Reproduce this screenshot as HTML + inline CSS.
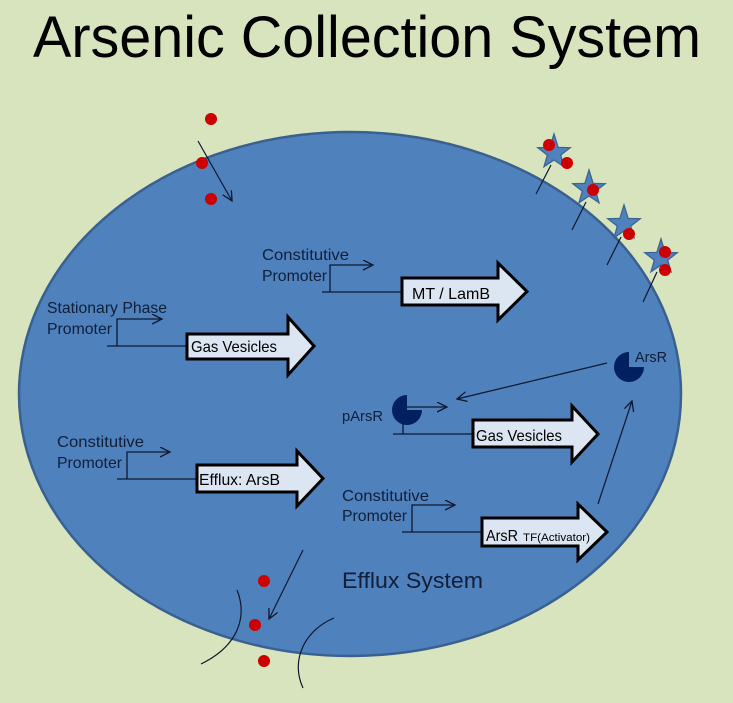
<!DOCTYPE html>
<html>
<head>
<meta charset="utf-8">
<style>
  html,body{margin:0;padding:0;background:#D7E4BD;}
  svg{display:block;}
  text{font-family:"Liberation Sans", sans-serif;}
</style>
</head>
<body>
<svg width="733" height="703" viewBox="0 0 733 703" xmlns="http://www.w3.org/2000/svg">
  <defs>
    <marker id="ah" markerUnits="userSpaceOnUse" markerWidth="14" markerHeight="14" refX="10" refY="5" orient="auto">
      <path d="M0,0 L10,5 L0,10" fill="none" stroke="#0D1830" stroke-width="1.3"/>
    </marker>
  </defs>

  <rect x="0" y="0" width="733" height="703" fill="#D7E4BD"/>

  <!-- Title -->
  <text x="33" y="57" font-size="58" fill="#000" textLength="668" lengthAdjust="spacingAndGlyphs">Arsenic Collection System</text>

  <!-- Cell -->
  <ellipse cx="350" cy="394" rx="331" ry="262" fill="#4F81BD" stroke="#3A6090" stroke-width="2.5"/>

  <!-- top-left entering arsenic -->
  <line x1="198" y1="141" x2="232" y2="201" stroke="#0D1830" stroke-width="1.2" marker-end="url(#ah)"/>
  <circle cx="211" cy="119" r="6" fill="#CC0000"/>
  <circle cx="202" cy="163" r="6" fill="#CC0000"/>
  <circle cx="211" cy="199" r="6" fill="#CC0000"/>

  <!-- membrane anchored stars -->
  <g stroke="#0D1830" stroke-width="1.2">
    <line x1="536" y1="194" x2="551" y2="165"/>
    <line x1="572" y1="230" x2="586" y2="202"/>
    <line x1="607" y1="265" x2="621" y2="237"/>
    <line x1="643" y1="302" x2="657" y2="272"/>
  </g>
  <g fill="#4F81BD" stroke="#3A6494" stroke-width="1.3">
    <polygon transform="translate(554,153)" points="0,-19 4.12,-5.66 16.17,-5.25 6.66,2.16 10,13.75 0,7 -10,13.75 -6.66,2.16 -16.17,-5.25 -4.12,-5.66"/>
    <polygon transform="translate(589,189)" points="0,-19 4.12,-5.66 16.17,-5.25 6.66,2.16 10,13.75 0,7 -10,13.75 -6.66,2.16 -16.17,-5.25 -4.12,-5.66"/>
    <polygon transform="translate(624,224)" points="0,-19 4.12,-5.66 16.17,-5.25 6.66,2.16 10,13.75 0,7 -10,13.75 -6.66,2.16 -16.17,-5.25 -4.12,-5.66"/>
    <polygon transform="translate(661,258)" points="0,-19 4.12,-5.66 16.17,-5.25 6.66,2.16 10,13.75 0,7 -10,13.75 -6.66,2.16 -16.17,-5.25 -4.12,-5.66"/>
  </g>
  <g fill="#CC0000">
    <circle cx="549" cy="145" r="6"/>
    <circle cx="567" cy="163" r="6"/>
    <circle cx="593" cy="190" r="6"/>
    <circle cx="629" cy="234" r="6"/>
    <circle cx="665" cy="252" r="6"/>
    <circle cx="665" cy="270" r="6"/>
  </g>

  <!-- Promoter: MT / LamB -->
  <text x="262" y="260" font-size="16" fill="#0F1F3A" textLength="87" lengthAdjust="spacingAndGlyphs">Constitutive</text>
  <text x="262" y="281" font-size="16" fill="#0F1F3A" textLength="65" lengthAdjust="spacingAndGlyphs">Promoter</text>
  <g stroke="#0D1830" stroke-width="1.3" fill="none">
    <polyline points="322,292 402,292"/>
    <polyline points="330,292 330,265 373,265" marker-end="url(#ah)"/>
  </g>
  <polygon points="402,278 498,278 498,263 527,291.5 498,320 498,305 402,305" fill="#DCE6F2" stroke="#000" stroke-width="3" stroke-linejoin="miter"/>
  <text x="412" y="299" font-size="16" fill="#000" textLength="78" lengthAdjust="spacingAndGlyphs">MT / LamB</text>

  <!-- Promoter: Stationary phase / Gas vesicles -->
  <text x="47" y="313" font-size="16" fill="#0F1F3A" textLength="120" lengthAdjust="spacingAndGlyphs">Stationary Phase</text>
  <text x="47" y="334" font-size="16" fill="#0F1F3A" textLength="65" lengthAdjust="spacingAndGlyphs">Promoter</text>
  <g stroke="#0D1830" stroke-width="1.3" fill="none">
    <polyline points="107,346 187,346"/>
    <polyline points="117,346 117,319 162,319" marker-end="url(#ah)"/>
  </g>
  <polygon points="187,334 288,334 288,317 314,346 288,375 288,359 187,359" fill="#DCE6F2" stroke="#000" stroke-width="3"/>
  <text x="191" y="352" font-size="16" fill="#000" textLength="86" lengthAdjust="spacingAndGlyphs">Gas Vesicles</text>

  <!-- Promoter: Efflux ArsB -->
  <text x="57" y="447" font-size="16" fill="#0F1F3A" textLength="87" lengthAdjust="spacingAndGlyphs">Constitutive</text>
  <text x="57" y="468" font-size="16" fill="#0F1F3A" textLength="65" lengthAdjust="spacingAndGlyphs">Promoter</text>
  <g stroke="#0D1830" stroke-width="1.3" fill="none">
    <polyline points="117,479 197,479"/>
    <polyline points="127,479 127,452 170,452" marker-end="url(#ah)"/>
  </g>
  <polygon points="197,465 297,465 297,451 323,478.5 297,506 297,492 197,492" fill="#DCE6F2" stroke="#000" stroke-width="3"/>
  <text x="199" y="485" font-size="16" fill="#000" textLength="81" lengthAdjust="spacingAndGlyphs">Efflux: ArsB</text>

  <!-- ArsR free pie -->
  <path d="M629,367 L629,352 A15,15 0 1 0 644,367 Z" fill="#002060"/>
  <text x="635" y="362" font-size="15" fill="#0F1F3A" textLength="32" lengthAdjust="spacingAndGlyphs">ArsR</text>
  <line x1="607" y1="363" x2="457" y2="399" stroke="#0D1830" stroke-width="1.2" marker-end="url(#ah)"/>

  <!-- pArsR promoter / Gas vesicles -->
  <text x="342" y="421" font-size="15" fill="#0F1F3A" textLength="41" lengthAdjust="spacingAndGlyphs">pArsR</text>
  <path d="M407,410 L407,395 A15,15 0 1 0 422,410 Z" fill="#002060"/>
  <g stroke="#0D1830" stroke-width="1.3" fill="none">
    <line x1="407" y1="407" x2="447" y2="407" marker-end="url(#ah)"/>
    <line x1="403" y1="424" x2="403" y2="434"/>
    <line x1="393" y1="434" x2="473" y2="434"/>
  </g>
  <polygon points="473,420 572,420 572,406 598,434 572,462 572,447 473,447" fill="#DCE6F2" stroke="#000" stroke-width="3"/>
  <text x="476" y="441" font-size="16" fill="#000" textLength="86" lengthAdjust="spacingAndGlyphs">Gas Vesicles</text>

  <!-- ArsR TF promoter -->
  <text x="342" y="501" font-size="16" fill="#0F1F3A" textLength="87" lengthAdjust="spacingAndGlyphs">Constitutive</text>
  <text x="342" y="521" font-size="16" fill="#0F1F3A" textLength="65" lengthAdjust="spacingAndGlyphs">Promoter</text>
  <g stroke="#0D1830" stroke-width="1.3" fill="none">
    <polyline points="402,532 482,532"/>
    <polyline points="412,532 412,505 455,505" marker-end="url(#ah)"/>
  </g>
  <polygon points="482,518 578,518 578,504 607,532 578,560 578,546 482,546" fill="#DCE6F2" stroke="#000" stroke-width="3"/>
  <text x="486" y="541" font-size="16" fill="#000" textLength="32" lengthAdjust="spacingAndGlyphs">ArsR</text>
  <text x="523" y="541" font-size="11" fill="#000" textLength="67" lengthAdjust="spacingAndGlyphs">TF(Activator)</text>
  <line x1="598" y1="504" x2="632" y2="401" stroke="#0D1830" stroke-width="1.2" marker-end="url(#ah)"/>

  <!-- Efflux System -->
  <text x="342" y="588" font-size="22" fill="#0F1F3A" textLength="141" lengthAdjust="spacingAndGlyphs">Efflux System</text>

  <!-- bottom efflux -->
  <line x1="303" y1="550" x2="269" y2="619" stroke="#0D1830" stroke-width="1.2" marker-end="url(#ah)"/>
  <path d="M237,590 C247,615 240,645 201,664" fill="none" stroke="#0D1830" stroke-width="1.2"/>
  <path d="M334,618 C305,630 290,660 303,688" fill="none" stroke="#0D1830" stroke-width="1.2"/>
  <circle cx="264" cy="581" r="6" fill="#CC0000"/>
  <circle cx="255" cy="625" r="6" fill="#CC0000"/>
  <circle cx="264" cy="661" r="6" fill="#CC0000"/>
</svg>
</body>
</html>
